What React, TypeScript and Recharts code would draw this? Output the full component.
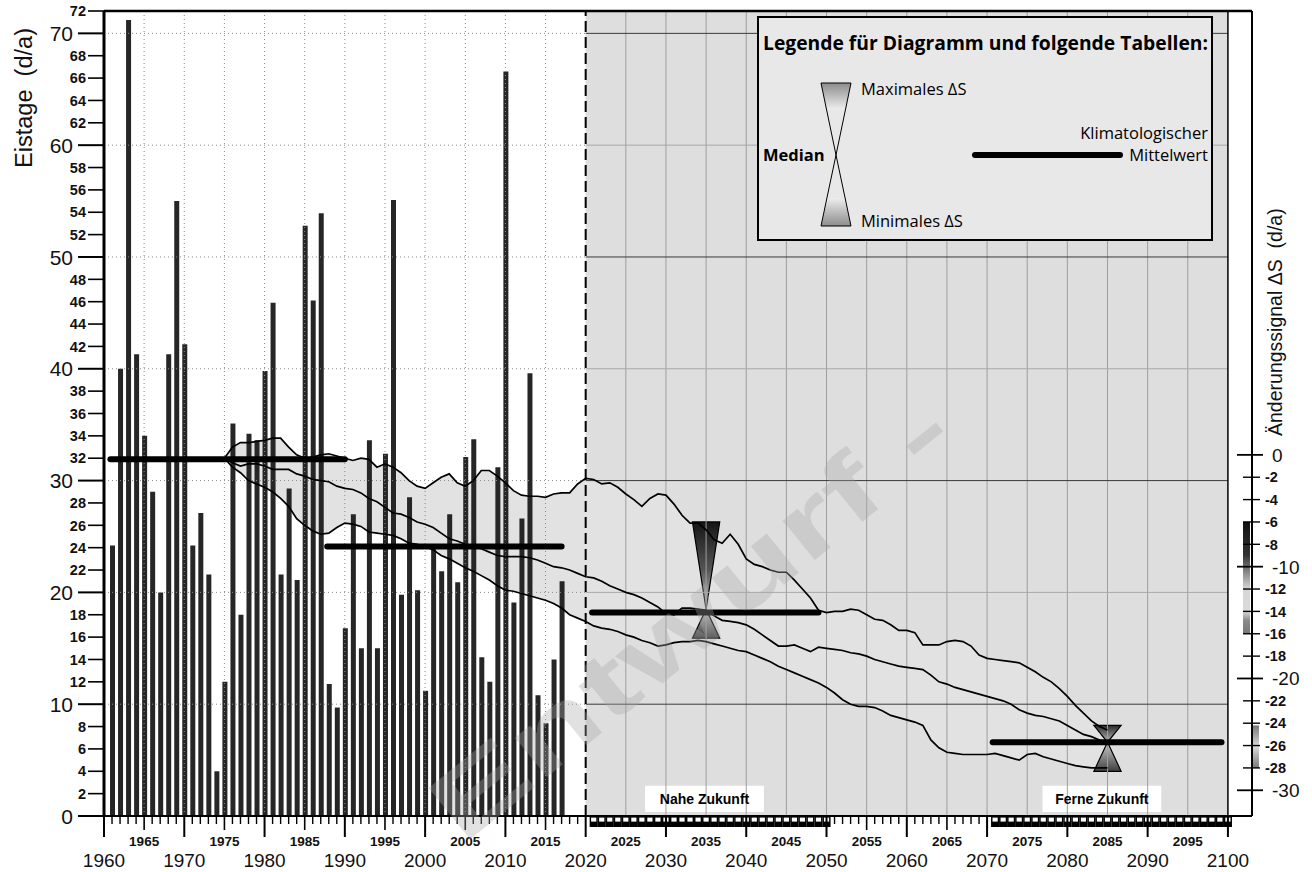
import React from 'react';
import {
  ComposedChart,
  Bar,
  Line,
  Area,
  XAxis,
  YAxis,
  ReferenceArea,
  ReferenceLine,
  Label,
} from 'recharts';

// ---------------- data ----------------
const FIRST_BAR_YEAR = 1961;
// Eistage (d/a), 1961 .. 2017
const eistage = [
  24.2, 40.0, 71.2, 41.3, 34.0, 29.0, 20.0, 41.3, 55.0, 42.2,
  24.2, 27.1, 21.6, 4.0, 12.0, 35.1, 18.0, 34.2, 33.6, 39.8,
  45.9, 21.6, 29.3, 21.1, 52.8, 46.1, 53.9, 11.8, 9.7, 16.8,
  27.0, 15.0, 33.6, 15.0, 32.4, 55.1, 19.8, 28.5, 20.2, 11.2,
  24.0, 21.9, 27.0, 20.9, 32.1, 33.7, 14.2, 12.0, 31.2, 66.6,
  19.1, 26.6, 39.6, 10.8, 8.3, 14.0, 21.0,
];

const CURVE_START = 1975;
// 30-year running scenario curves (d/a), 1975 .. 2085
const maxCurve = [
  32.0, 33.0, 33.4, 33.4, 33.5, 33.6, 33.8, 33.8, 33.0, 32.3,
  32.0, 32.1, 32.3, 32.4, 32.2, 32.0, 31.8, 32.0, 31.9, 31.2,
  31.5, 31.2, 30.7, 30.0, 29.5, 29.3, 29.8, 30.3, 30.6, 29.8,
  29.5, 30.0, 30.9, 30.9, 30.4, 29.8, 29.1, 28.7, 28.6, 28.6,
  28.5, 28.8, 28.9, 28.9, 29.7, 30.2, 30.1, 29.7, 29.8, 29.4,
  28.8, 28.3, 27.7, 28.4, 28.8, 28.7, 27.9, 26.9, 26.2, 26.2,
  25.6, 24.7, 24.4, 25.2, 24.3, 23.0, 22.5, 22.3, 22.0, 21.8,
  21.8, 21.1, 20.3, 19.5, 18.4, 18.2, 18.3, 18.3, 18.5, 18.4,
  18.0, 17.6, 17.5, 17.1, 16.6, 16.6, 16.4, 15.3, 15.3, 15.3,
  15.6, 15.7, 15.6, 15.2, 14.4, 14.1, 14.0, 13.9, 13.8, 13.7,
  13.3, 12.9, 12.4, 12.0, 11.4, 10.7, 9.9, 9.2, 8.5, 8.0,
  7.7,
];
const medCurve = [
  32.0, 31.6, 31.3, 31.5, 31.5, 31.3, 31.0, 31.0, 31.0, 30.6,
  30.4, 30.1, 30.0, 29.9, 29.5, 29.3, 29.2, 28.9, 28.4, 28.1,
  27.6, 27.1, 27.0, 26.7, 26.3, 26.1, 25.8, 25.3, 24.8, 24.6,
  24.3, 24.1, 23.9, 23.6, 23.3, 23.2, 23.2, 23.2, 23.1, 22.9,
  22.6, 22.3, 22.2, 22.0, 21.7, 21.4, 21.3, 21.0, 20.6, 20.3,
  20.0, 19.8, 19.5, 19.1, 18.7, 18.1, 18.0, 18.6, 18.6, 18.5,
  18.4, 17.9, 17.5, 17.4, 17.3, 17.1, 16.7, 16.2, 15.7, 15.2,
  15.2, 15.3, 15.0, 14.7, 15.1, 15.0, 14.9, 14.8, 14.6, 14.5,
  14.3, 14.0, 13.8, 13.6, 13.4, 13.3, 13.2, 13.1, 12.6, 12.0,
  11.8, 11.5, 11.3, 11.1, 10.9, 10.7, 10.5, 10.3, 10.0, 9.5,
  9.2, 9.0, 8.9, 8.7, 8.5, 8.1, 7.7, 7.3, 7.1, 6.8,
  6.6,
];
const minCurve = [
  32.0, 31.2, 30.7, 30.0, 29.7, 29.4, 29.0, 28.4, 27.7, 26.6,
  26.0, 25.5, 25.2, 25.3, 25.8, 26.2, 26.1, 25.9, 25.4, 25.3,
  25.2, 25.1, 24.8, 24.4, 24.3, 24.1, 23.8, 23.3, 23.0, 22.6,
  22.2, 21.9, 21.5, 21.1, 20.6, 20.2, 20.1, 19.9, 19.7, 19.5,
  19.3, 19.0, 18.6, 18.0, 17.7, 17.4, 17.0, 16.8, 16.7, 16.5,
  16.2, 16.0, 15.7, 15.5, 15.2, 15.3, 15.5, 15.6, 15.6, 15.7,
  15.6, 15.4, 15.2, 15.0, 14.8, 14.7, 14.4, 14.1, 13.8, 13.4,
  13.1, 12.8, 12.5, 12.2, 11.9, 11.5, 11.0, 10.4, 10.0, 9.8,
  9.8, 9.7, 9.4, 9.0, 8.8, 8.6, 8.4, 8.1, 6.8, 6.1,
  5.7, 5.6, 5.5, 5.5, 5.5, 5.5, 5.6, 5.4, 5.2, 5.0,
  5.5, 5.6, 5.3, 5.1, 4.9, 4.7, 4.5, 4.4, 4.3, 4.3,
  4.3,
];

// climatological means (d/a): [fromYear, toYear, value]
const meanPeriods: [number, number, number][] = [
  [1960.8, 1990.0, 31.9],
  [1987.8, 2017.0, 24.1],
  [2020.8, 2049.0, 18.2],
  [2070.7, 2099.2, 6.6],
];

// change signals ΔS (d/a) relative to 1961-1990
const signalYears = [2035, 2085];
const signalMax = [-6.0, -24.2];
const signalMedian = [-13.8, -25.7];
const signalMin = [-16.4, -28.3];

const periodLabels = ['Nahe Zukunft', 'Ferne Zukunft'];
const periodLabelCenters = [2034.8, 2084.3];

const decadeLabels = [1960, 1970, 1980, 1990, 2000, 2010, 2020, 2030, 2040, 2050, 2060, 2070, 2080, 2090, 2100];
const midLabels = [1965, 1975, 1985, 1995, 2005, 2015, 2025, 2035, 2045, 2055, 2065, 2075, 2085, 2095];
const leftTicks = [0, 2, 4, 6, 8, 10, 12, 14, 16, 18, 20, 22, 24, 26, 28, 30, 32, 34, 36, 38, 40, 42, 44, 46, 48, 50, 52, 54, 56, 58, 60, 62, 64, 66, 68, 70, 72];
const rightTicks = [0, -2, -4, -6, -8, -10, -12, -14, -16, -18, -20, -22, -24, -26, -28, -30];
const gridValues = [10, 20, 30, 40, 50, 60, 70];
const gridYearsPast = [1965, 1970, 1975, 1980, 1985, 1990, 1995, 2000, 2005, 2010, 2015];
const gridYearsFuture = [2025, 2030, 2035, 2040, 2045, 2050, 2055, 2060, 2065, 2070, 2075, 2080, 2085, 2090, 2095];

// minor year ticks (one per year)
const xTicks: number[] = [];
for (let y = 1960; y <= 2100; y++) xTicks.push(y);

const rows: any[] = [];
for (let y = FIRST_BAR_YEAR; y <= 2085; y++) {
  const bi = y - FIRST_BAR_YEAR;
  const ci = y - CURVE_START;
  const hasC = ci >= 0 && ci < maxCurve.length;
  rows.push({
    year: y,
    eis: bi < eistage.length ? eistage[bi] : null,
    max: hasC ? maxCurve[ci] : null,
    med: hasC ? medCurve[ci] : null,
    min: hasC ? minCurve[ci] : null,
    band: hasC ? [minCurve[ci], maxCurve[ci]] : null,
  });
}

// ---------------- styles ----------------
const W = 1312;
const H = 872;
const FONT = "'Liberation Sans', Arial, Helvetica, sans-serif";
const LFONT = "'Open Sans', 'Noto Sans', sans-serif";
const FUTURE_BG = '#dedede';

const inRuler = (v: number) => (v >= 2021 && v <= 2050) || (v >= 2071 && v <= 2100);

const XTick = (props: any) => {
  const { x, y, payload } = props;
  const v = payload.value as number;
  const isDecade = decadeLabels.includes(v);
  const isMid = midLabels.includes(v);
  const ruler = inRuler(v);
  return (
    <g>
      {ruler && (
        <g>
          <rect x={x - 4.05} y={y} width={8.1} height={11} fill="#000" />
          <rect x={x - 2.6} y={y + 1.6} width={5.2} height={4} fill="#fff" />
        </g>
      )}
      {isDecade && <line x1={x} x2={x} y1={y} y2={y + 21} stroke="#000" strokeWidth={2} />}
      {isMid && !ruler && <line x1={x} x2={x} y1={y} y2={y + 14} stroke="#000" strokeWidth={1.6} />}
      {!isDecade && !isMid && !ruler && <line x1={x} x2={x} y1={y} y2={y + 8} stroke="#000" strokeWidth={1.4} />}
      {isDecade && (
        <text x={x} y={y + 51} textAnchor="middle" fontSize={19} fontFamily={FONT} fill="#111">
          {v}
        </text>
      )}
      {isMid && (
        <text x={x} y={y + 30} textAnchor="middle" fontSize={13.5} fontWeight="bold" fontFamily={FONT} fill="#111">
          {v}
        </text>
      )}
    </g>
  );
};

const LeftTick = (props: any) => {
  const { x, y, payload } = props;
  const v = payload.value as number;
  const major = v % 10 === 0;
  return (
    <g>
      <line x1={x - (major ? 26 : 16)} x2={x} y1={y} y2={y} stroke="#000" strokeWidth={major ? 2 : 1.6} />
      <text
        x={x - (major ? 31 : 18)}
        y={y}
        dy="0.36em"
        textAnchor="end"
        fontSize={major ? 21 : 14.5}
        fontWeight={major ? 'normal' : 'bold'}
        fontFamily={FONT}
        fill="#111"
      >
        {v}
      </text>
    </g>
  );
};

const RightTick = (props: any) => {
  const { x, y, payload } = props;
  const v = payload.value as number;
  const major = v % 10 === 0;
  return (
    <g>
      <line x1={x - (major ? 15 : 9)} x2={x + (major ? 11 : 8)} y1={y} y2={y} stroke="#000" strokeWidth={major ? 1.8 : 1.4} />
      <text
        x={x + (major ? 20 : 13)}
        y={y}
        dy="0.36em"
        textAnchor="start"
        fontSize={major ? 19 : 14.5}
        fontWeight={major ? 'normal' : 'bold'}
        fontFamily={FONT}
        fill="#111"
      >
        {v === 0 ? '0' : `-${Math.abs(v)}`}
      </text>
    </g>
  );
};

const tri = (dir: 'down' | 'up', id: string, stops: [string, string][]) => (p: any) => {
  const { x, y, width, height } = p;
  const pts =
    dir === 'down'
      ? `${x},${y} ${x + width},${y} ${x + width / 2},${y + height}`
      : `${x + width / 2},${y} ${x},${y + height} ${x + width},${y + height}`;
  return (
    <g>
      <defs>
        <linearGradient id={id} x1="0" y1="0" x2="0" y2="1">
          {stops.map(([o, c], i) => (
            <stop key={i} offset={o} stopColor={c} />
          ))}
        </linearGradient>
      </defs>
      <polygon points={pts} fill={`url(#${id})`} stroke="#000" strokeWidth={1.2} />
    </g>
  );
};

const gradRect = (id: string, stops: [string, string][]) => (p: any) => {
  const { x, y, width, height } = p;
  return (
    <g>
      <defs>
        <linearGradient id={id} x1="0" y1="0" x2="0" y2="1">
          {stops.map(([o, c], i) => (
            <stop key={i} offset={o} stopColor={c} />
          ))}
        </linearGradient>
      </defs>
      <rect x={x} y={y} width={width} height={height} fill={`url(#${id})`} />
    </g>
  );
};

const topStops: [string, string][][] = [
  [['0', '#151515'], ['0.55', '#555'], ['1', '#cfcfcf']],
  [['0', '#2a2a2a'], ['1', '#bdbdbd']],
];
const botStops: [string, string][][] = [
  [['0', '#c8c8c8'], ['1', '#3a3a3a']],
  [['0', '#d0d0d0'], ['1', '#3f3f3f']],
];
const barStops: [string, string][][] = [
  [['0', '#111'], ['0.3', '#333'], ['0.45', '#888'], ['0.6', '#d6d6d6'], ['0.8', '#dadada'], ['0.88', '#8a8a8a'], ['1', '#777']],
  [['0', '#777'], ['0.5', '#dadada'], ['1', '#7a7a7a']],
];

export default function App() {
  return (
    <div style={{ position: 'relative', width: W, height: H, background: '#fff', overflow: 'hidden' }}>
      <style>{'html,body{margin:0;padding:0;overflow:hidden;}'}</style>
      <ComposedChart width={W} height={H} data={rows} margin={{ top: 11, right: 0, bottom: 0, left: 0 }}>
        <XAxis
          dataKey="year"
          type="number"
          domain={[1960, 2103]}
          allowDataOverflow
          ticks={xTicks}
          interval={0}
          tick={XTick}
          tickLine={false}
          tickSize={0}
          tickMargin={0}
          axisLine={{ stroke: '#000', strokeWidth: 2 }}
          height={56}
        />
        <YAxis
          yAxisId="l"
          orientation="left"
          type="number"
          domain={[0, 72]}
          allowDataOverflow
          ticks={leftTicks}
          interval={0}
          tick={LeftTick}
          tickLine={false}
          tickSize={0}
          tickMargin={0}
          width={104}
          axisLine={{ stroke: '#000', strokeWidth: 3 }}
        />
        <YAxis
          yAxisId="r"
          orientation="right"
          type="number"
          domain={[-32.3, 39.7]}
          allowDataOverflow
          ticks={rightTicks}
          interval={0}
          tick={RightTick}
          tickLine={false}
          tickSize={0}
          tickMargin={0}
          width={60}
          axisLine={{ stroke: '#000', strokeWidth: 2 }}
        />

        {/* future background */}
        <ReferenceArea yAxisId="l" x1={2020} x2={2100} y1={0} y2={72} fill={FUTURE_BG} fillOpacity={1} stroke="none" />

        {/* spread between scenario curves */}
        <Area yAxisId="l" dataKey="band" type="linear" fill="#e2e2e2" fillOpacity={1} stroke="none" isAnimationActive={false} />

        {/* grid - past */}
        {gridYearsPast.map((g) => (
          <ReferenceLine key={`gp${g}`} yAxisId="l" segment={[{ x: g, y: 0 }, { x: g, y: 72 }]} stroke="#8a8a8a" strokeDasharray="1 3" />
        ))}
        {gridValues.map((g) => (
          <ReferenceLine key={`hp${g}`} yAxisId="l" segment={[{ x: 1960, y: g }, { x: 2020, y: g }]} stroke="#8a8a8a" strokeDasharray="1 3" />
        ))}
        {/* grid - future */}
        {gridYearsFuture.map((g) => (
          <ReferenceLine key={`gf${g}`} yAxisId="l" segment={[{ x: g, y: 0 }, { x: g, y: 72 }]} stroke="#9e9e9e" strokeWidth={1} />
        ))}
        {gridValues.map((g) => (
          <ReferenceLine
            key={`hf${g}`}
            yAxisId="l"
            segment={[{ x: 2020, y: g }, { x: 2100, y: g }]}
            stroke={g % 20 === 10 ? '#3a3a3a' : '#a8a8a8'}
            strokeWidth={1}
          />
        ))}

        <Bar yAxisId="l" dataKey="eis" barSize={5} fill="#262626" isAnimationActive={false} />

        <Line yAxisId="l" dataKey="max" type="linear" stroke="#000" strokeWidth={1.7} dot={false} isAnimationActive={false} />
        <Line yAxisId="l" dataKey="med" type="linear" stroke="#000" strokeWidth={1.7} dot={false} isAnimationActive={false} />
        <Line yAxisId="l" dataKey="min" type="linear" stroke="#000" strokeWidth={1.7} dot={false} isAnimationActive={false} />

        <ReferenceLine yAxisId="l" x={2020} stroke="#000" strokeWidth={2} strokeDasharray="11 5" />

        {meanPeriods.map(([a, b, v], i) => (
          <ReferenceLine
            key={`m${i}`}
            yAxisId="l"
            segment={[{ x: a, y: v }, { x: b, y: v }]}
            stroke="#000"
            strokeWidth={6}
            strokeLinecap="round"
          />
        ))}

        {signalYears.map((yr, i) => (
          <ReferenceArea
            key={`ht${i}`}
            yAxisId="r"
            x1={yr - 1.7}
            x2={yr + 1.7}
            y1={signalMax[i]}
            y2={signalMedian[i]}
            shape={tri('down', `gt${i}`, topStops[i])}
          />
        ))}
        {signalYears.map((yr, i) => (
          <ReferenceArea
            key={`hb${i}`}
            yAxisId="r"
            x1={yr - 1.7}
            x2={yr + 1.7}
            y1={signalMedian[i]}
            y2={signalMin[i]}
            shape={tri('up', `gb${i}`, botStops[i])}
          />
        ))}

        {periodLabels.map((lab, i) => (
          <ReferenceArea
            key={`pl${i}`}
            yAxisId="l"
            x1={periodLabelCenters[i] - 7.4}
            x2={periodLabelCenters[i] + 7.4}
            y1={0.35}
            y2={2.7}
            fill="#fff"
            fillOpacity={1}
            stroke="none"
          >
            <Label value={lab} position="center" fontSize={14} fontWeight="bold" fontFamily={FONT} fill="#000" />
          </ReferenceArea>
        ))}

        {/* frame */}
        <ReferenceLine yAxisId="l" y={72} stroke="#000" strokeWidth={2.5} />
        <ReferenceLine yAxisId="l" x={2100} stroke="#000" strokeWidth={1.5} />

        {/* signal ranges on the right axis */}
        <ReferenceArea
          yAxisId="r"
          x1={2101.88}
          x2={2102.75}
          y1={signalMax[0]}
          y2={signalMin[0] + 0.4}
          ifOverflow="visible"
          shape={gradRect('rb0', barStops[0])}
        />
        <ReferenceArea
          yAxisId="r"
          x1={2103.12}
          x2={2103.87}
          y1={signalMax[1]}
          y2={signalMin[1] + 0.3}
          ifOverflow="visible"
          shape={gradRect('rb1', barStops[1])}
        />
      </ComposedChart>

      {/* overlay: titles, legend, watermark */}
      <svg width={W} height={H} style={{ position: 'absolute', left: 0, top: 0, pointerEvents: 'none' }}>
        <defs>
          <linearGradient id="legTop" x1="0" y1="0" x2="0" y2="1">
            <stop offset="0" stopColor="#8c8c8c" />
            <stop offset="0.36" stopColor="#ececec" />
            <stop offset="0.37" stopColor="#ececec" stopOpacity={0} />
            <stop offset="1" stopColor="#ececec" stopOpacity={0} />
          </linearGradient>
          <linearGradient id="legBot" x1="0" y1="0" x2="0" y2="1">
            <stop offset="0" stopColor="#ececec" stopOpacity={0} />
            <stop offset="0.6" stopColor="#ececec" stopOpacity={0} />
            <stop offset="0.61" stopColor="#ececec" />
            <stop offset="1" stopColor="#8c8c8c" />
          </linearGradient>
        </defs>

        {/* axis titles */}
        <text
          transform="translate(32,168) rotate(-90)"
          x={0}
          y={0}
          fontSize={23}
          fontFamily={FONT}
          fill="#111"
          textLength={140}
          lengthAdjust="spacingAndGlyphs"
          style={{ whiteSpace: 'pre' }}
        >
          {'Eistage  (d/a)'}
        </text>
        <text
          transform="translate(1282,436) rotate(-90)"
          x={0}
          y={0}
          fontSize={19.5}
          fontFamily={FONT}
          fill="#111"
          style={{ whiteSpace: 'pre' }}
        >
          {'Änderungssignal ΔS  (d/a)'}
        </text>

        {/* legend */}
        <rect x={758} y={17} width={454} height={223} fill="#e8e8e8" stroke="#000" strokeWidth={2} />
        <text x={763} y={50} fontSize={20} fontWeight="bold" fontFamily={LFONT} fill="#000" textLength={445} lengthAdjust="spacingAndGlyphs">
          Legende für Diagramm und folgende Tabellen:
        </text>
        <polygon points="821,83 851,83 836,155" fill="url(#legTop)" stroke="#000" strokeWidth={1} />
        <polygon points="836,155 821,226 851,226" fill="url(#legBot)" stroke="#000" strokeWidth={1} />
        <text x={861} y={95} fontSize={16.5} fontFamily={LFONT} fill="#000">
          Maximales ΔS
        </text>
        <text x={763} y={161} fontSize={16.5} fontWeight="bold" fontFamily={LFONT} fill="#000">
          Median
        </text>
        <text x={861} y={227} fontSize={16.5} fontFamily={LFONT} fill="#000">
          Minimales ΔS
        </text>
        <text x={1208} y={139} fontSize={16.5} fontFamily={LFONT} fill="#000" textAnchor="end">
          Klimatologischer
        </text>
        <text x={1208} y={161} fontSize={16.5} fontFamily={LFONT} fill="#000" textAnchor="end">
          Mittelwert
        </text>
        <line x1={975} x2={1120} y1={155} y2={155} stroke="#000" strokeWidth={6} strokeLinecap="round" />

        {/* watermark */}
        <text
          transform="translate(690,618) rotate(-39)"
          x={0}
          y={0}
          textAnchor="middle"
          dominantBaseline="central"
          fontSize={96}
          fontWeight="bold"
          fontFamily={FONT}
          fill="#a8a8a8"
          opacity={0.34}
          textLength={640}
          lengthAdjust="spacingAndGlyphs"
        >
          Entwurf -
        </text>
      </svg>
    </div>
  );
}
